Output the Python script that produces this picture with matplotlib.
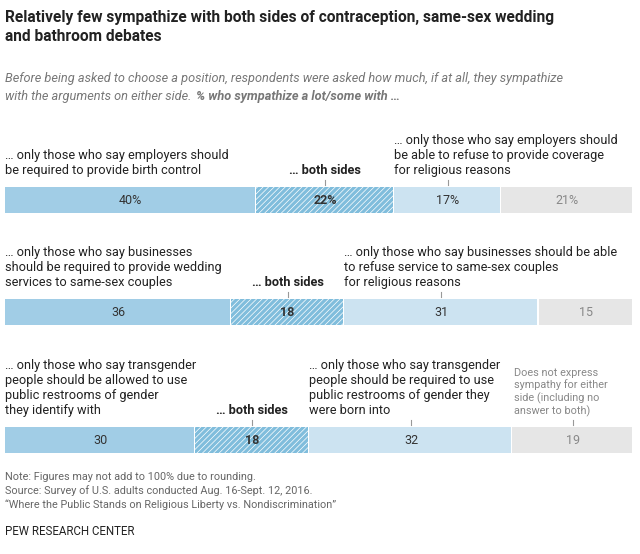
import matplotlib
matplotlib.use("Agg")
import matplotlib.pyplot as plt

rows = ["contraception", "wedding", "bathroom"]
only_a = [40, 36, 30]
both = [22, 18, 18]
only_b = [17, 31, 32]
neither = [21, 15, 19]
val_labels = [["40%", "22%", "17%", "21%"], ["36", "18", "31", "15"], ["30", "18", "32", "19"]]
labels_a = ["… only those who say employers should\nbe required to provide birth control",
            "… only those who say businesses\nshould be required to provide wedding\nservices to same-sex couples",
            "… only those who say transgender\npeople should be allowed to use\npublic restrooms of gender\nthey identify with"]
labels_b = ["… only those who say employers should\nbe able to refuse to provide coverage\nfor religious reasons",
            "… only those who say businesses should be able\nto refuse service to same-sex couples\nfor religious reasons",
            "… only those who say transgender\npeople should be required to use\npublic restrooms of gender they\nwere born into"]

plt.rcParams['font.family'] = ['Roboto', 'DejaVu Sans']
plt.rcParams['hatch.color'] = 'white'
plt.rcParams['hatch.linewidth'] = 0.5
fig = plt.figure(figsize=(6.4, 5.54), dpi=100)
ax = fig.add_axes([0, 0, 1, 1])
ax.set_xlim(0, 640); ax.set_ylim(554, 0); ax.axis('off')

ax.text(5, 10, "Relatively few sympathize with both sides of contraception, same-sex wedding\nand bathroom debates",
        fontsize=11.2, fontweight='bold', va='top', linespacing=1.3, color='#222')
ax.text(5, 72, "Before being asked to choose a position, respondents were asked how much, if at all, they sympathize",
        fontsize=9.2, style='italic', va='top', color='#777')
ax.text(5, 90, "with the arguments on either side. ", fontsize=9.2, style='italic', va='top', color='#777')
ax.text(196, 90, "% who sympathize a lot/some with …", fontsize=9.2, style='italic', fontweight='bold', va='top', color='#777')

bar_y = [200, 312, 440]
bh = 26
colors = ['#a1cde6', '#80bddc', '#cce3f1', '#e6e6e6']
x0, W = 5, 628
for i in range(3):
    vals = [only_a[i], both[i], only_b[i], neither[i]]
    s = W / sum(vals)
    left = x0
    centers = []
    for j, v in enumerate(vals):
        w = v * s
        ax.barh(bar_y[i], w - 1.5, left=left, height=bh, color=colors[j],
                hatch='//////' if j == 1 else None, linewidth=0)
        c = left + w / 2
        centers.append(c)
        ax.text(c, bar_y[i], val_labels[i][j], ha='center', va='center', fontsize=9,
                color='#333' if j != 3 else '#888', fontweight='bold' if j == 1 else 'normal')
        left += w
    top = bar_y[i] - bh / 2
    ax.text(5, top - 10, labels_a[i], fontsize=9.2, va='bottom', linespacing=1.2, color='#222')
    ax.text(centers[1], top - 10, "… both sides", fontsize=9.2, fontweight='bold', ha='center', va='bottom', color='#222')
    bstart = x0 + (only_a[i] + both[i]) * s
    ax.text(bstart, top - 10, labels_b[i], fontsize=9.2, va='bottom', linespacing=1.2, color='#222')
    for c in centers[1:3]:
        ax.plot([c, c], [top - 7, top - 2], color='#999', lw=0.8)
    if i == 2:
        ax.text(x0 + (only_a[i] + both[i] + only_b[i]) * s + 2, top - 10,
                "Does not express\nsympathy for either\nside (including no\nanswer to both)",
                fontsize=7.8, va='bottom', color='#888', linespacing=1.2)
        ax.plot([centers[3], centers[3]], [top - 7, top - 2], color='#999', lw=0.8)

ax.text(5, 472, "Note: Figures may not add to 100% due to rounding.\nSource: Survey of U.S. adults conducted Aug. 16-Sept. 12, 2016.\n\u201cWhere the Public Stands on Religious Liberty vs. Nondiscrimination\u201d",
        fontsize=7.8, va='top', color='#666', linespacing=1.35)
ax.text(5, 525, "PEW RESEARCH CENTER", fontsize=8.3, va='top', color='#222')
fig.savefig("out.png", dpi=100, facecolor='white')
